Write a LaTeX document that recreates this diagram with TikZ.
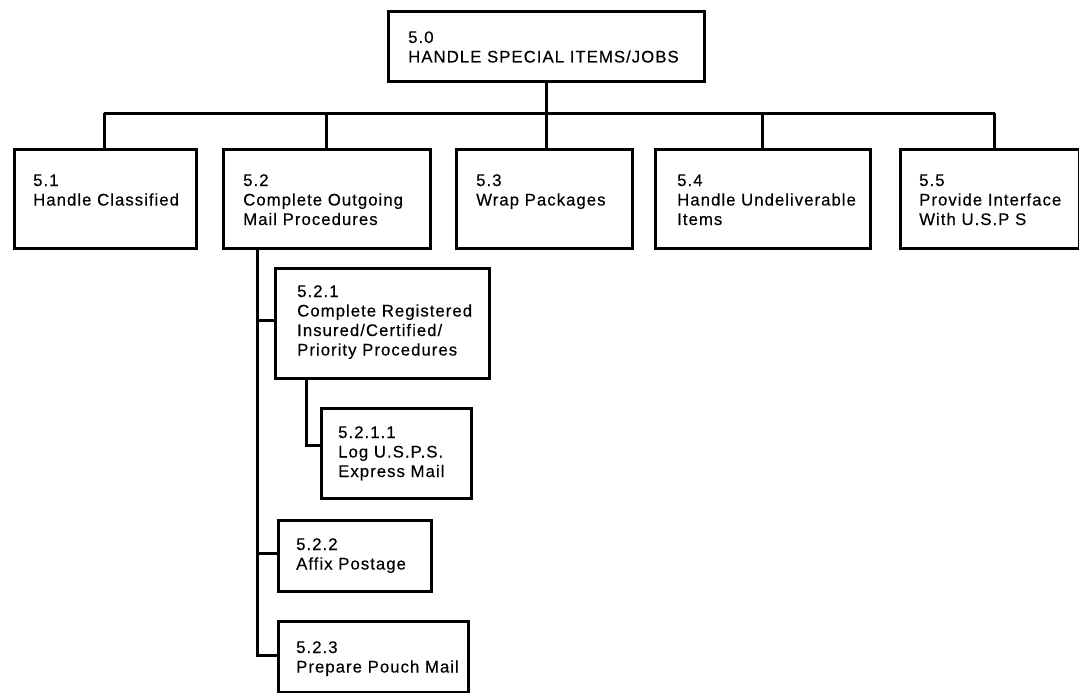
\documentclass[tikz,border=0pt]{standalone}
\usepackage{fontspec}
\setmainfont{Liberation Sans}[LetterSpace=6, FakeBold=0.3]
\begin{document}
\begin{tikzpicture}[x=1pt,y=-1pt,
  box/.style={draw, line width=2.6pt, rectangle, inner sep=0pt, anchor=north west},
  txt/.style={anchor=base west, inner sep=0pt, font=\fontsize{16.8}{19.5}\selectfont},
  wire/.style={draw, line width=3pt, line join=miter}]
\useasboundingbox (0,0) rectangle (1079,693);
% boxes
\node[box, minimum width=316pt, minimum height=70pt] (n50) at (387,10) {};
\node[box, minimum width=182pt, minimum height=99pt] (n51) at (13,148) {};
\node[box, minimum width=207pt, minimum height=99pt] (n52) at (222,148) {};
\node[box, minimum width=176pt, minimum height=99pt] (n53) at (455,148) {};
\node[box, minimum width=215pt, minimum height=99pt] (n54) at (654,148) {};
\node[box, minimum width=179pt, minimum height=99pt] (n55) at (899,148) {};
\node[box, minimum width=214pt, minimum height=110pt] (n521) at (274,267) {};
\node[box, minimum width=150pt, minimum height=90pt] (n5211) at (320,407) {};
\node[box, minimum width=153pt, minimum height=71pt] (n522) at (277,519) {};
\node[box, minimum width=190pt, minimum height=71pt] (n523) at (277,620) {};
% texts
\node[txt] (t50) at (408,43) {\vtop{\hbox{5.0}\hbox{HANDLE SPECIAL ITEMS/JOBS}}};
\node[txt] (t51) at (33,186) {\vtop{\hbox{5.1}\hbox{Handle Classified}}};
\node[txt] (t52) at (243,186) {\vtop{\hbox{5.2}\hbox{Complete Outgoing}\hbox{Mail Procedures}}};
\node[txt] (t53) at (476,186) {\vtop{\hbox{5.3}\hbox{Wrap Packages}}};
\node[txt] (t54) at (677,186) {\vtop{\hbox{5.4}\hbox{Handle Undeliverable}\hbox{Items}}};
\node[txt] (t55) at (919,186) {\vtop{\hbox{5.5}\hbox{Provide Interface}\hbox{With U.S.P S}}};
\node[txt] (t521) at (297,297) {\vtop{\hbox{5.2.1}\hbox{Complete Registered}\hbox{Insured/Certified/}\hbox{Priority Procedures}}};
\node[txt] (t5211) at (338,438) {\vtop{\hbox{5.2.1.1}\hbox{Log U.S.P.S.}\hbox{Express Mail}}};
\node[txt] (t522) at (296,550) {\vtop{\hbox{5.2.2}\hbox{Affix Postage}}};
\node[txt] (t523) at (296,653) {\vtop{\hbox{5.2.3}\hbox{Prepare Pouch Mail}}};
% connectors
\coordinate (bus) at (0,113);
\coordinate (d51) at ([xshift=-1pt]n51.north);
\coordinate (d53) at ([xshift=2pt]n53.north);
\coordinate (d55) at ([xshift=5pt]n55.north);
\draw[wire] (n50.south) -- (n50.south |- bus);
\draw[wire] (d51 |- bus) -- (d55 |- bus);
\draw[wire] (d51) -- (d51 |- bus);
\draw[wire] (n52.north) -- (n52.north |- bus);
\draw[wire] (d53) -- (d53 |- bus);
\draw[wire] (n54.north) -- (n54.north |- bus);
\draw[wire] (d55) -- (d55 |- bus);
% trunk under 5.2
\coordinate (tr) at ([xshift=35pt]n52.south west);
\coordinate (b523) at ([yshift=-35pt]n523.north west);
\coordinate (b522) at ([yshift=-34pt]n522.north west);
\coordinate (b521) at ([yshift=-53pt]n521.north west);
\draw[wire] (tr) -- (tr |- b523) -- (b523);
\draw[wire] (tr |- b522) -- (b522);
\draw[wire] (tr |- b521) -- (b521);
\coordinate (tr2) at ([xshift=32pt]n521.south west);
\coordinate (b5211) at ([yshift=-38pt]n5211.north west);
\draw[wire] (tr2) -- (tr2 |- b5211) -- (b5211);
\end{tikzpicture}
\end{document}
